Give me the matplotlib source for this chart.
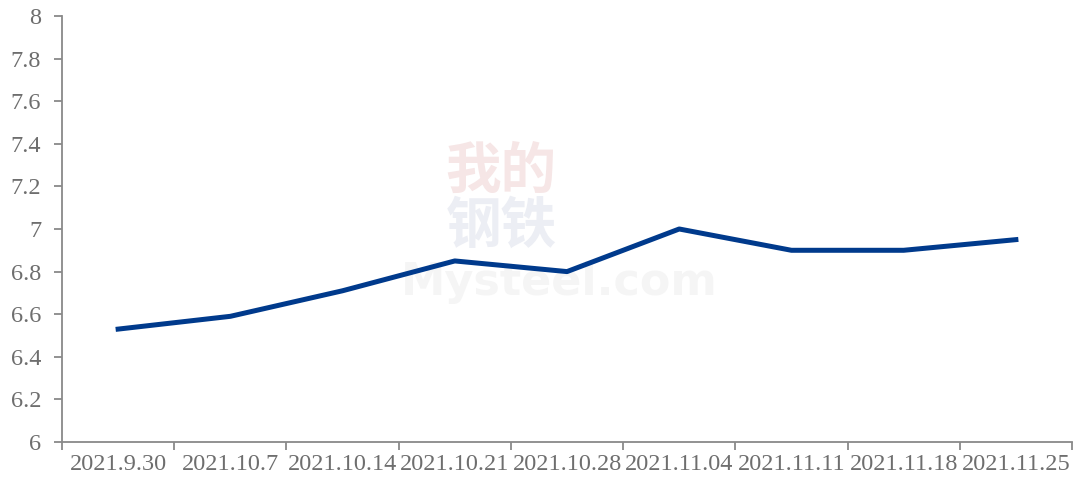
import numpy as np
import matplotlib.pyplot as plt

dates = ['2021.9.30', '2021.10.7', '2021.10.14', '2021.10.21', '2021.10.28',
         '2021.11.04', '2021.11.11', '2021.11.18', '2021.11.25']
values = [6.53, 6.59, 6.71, 6.85, 6.80, 7.00, 6.90, 6.90, 6.95]

plt.rcParams['font.family'] = ['Liberation Serif', 'DejaVu Serif']

fig = plt.figure(figsize=(10.75, 4.83), dpi=100)
ax = fig.add_axes([0.0577, 0.0849, 0.9395, 0.882])

# watermark (faint, behind the line)
wm = dict(transform=fig.transFigure, ha='center', va='center', zorder=0)
ax.text(0.466, 0.645, '我的', fontsize=40, color='#f6e6e6',
        family=['Noto Sans CJK SC'], weight='bold', **wm)
ax.text(0.466, 0.53, '钢铁', fontsize=40, color='#eceef4',
        family=['Noto Sans CJK SC'], weight='bold', **wm)
ax.text(0.52, 0.415, 'Mysteel.com', fontsize=32, color='#f5f5f5',
        family=['DejaVu Sans'], weight='bold', **wm)

x = np.arange(len(dates))
ax.plot(x, values, color='#003a8c', lw=3.6, zorder=3)

ax.set_xlim(-0.5, len(dates) - 0.5)
ax.set_ylim(6, 8)
ax.set_yticks(np.arange(6, 8.01, 0.2))
ax.set_yticklabels(['6', '6.2', '6.4', '6.6', '6.8', '7', '7.2', '7.4', '7.6', '7.8', '8'])
ax.set_xticks(x)
ax.set_xticklabels(dates)
ax.set_xticks(np.arange(-0.5, len(dates)), minor=True)
ax.tick_params(axis='x', which='major', length=0, pad=9)
ax.tick_params(axis='x', which='minor', length=6, color='#898989', width=1.3)
ax.tick_params(axis='y', length=6, color='#898989', width=1.3, pad=9)
ax.tick_params(labelsize=17.5, labelcolor='#6e6e6e')

for s in ['top', 'right']:
    ax.spines[s].set_visible(False)
for s in ['left', 'bottom']:
    ax.spines[s].set_color('#898989')
    ax.spines[s].set_linewidth(1.3)
ax.patch.set_alpha(0)

plt.savefig('out.png', dpi=100)
